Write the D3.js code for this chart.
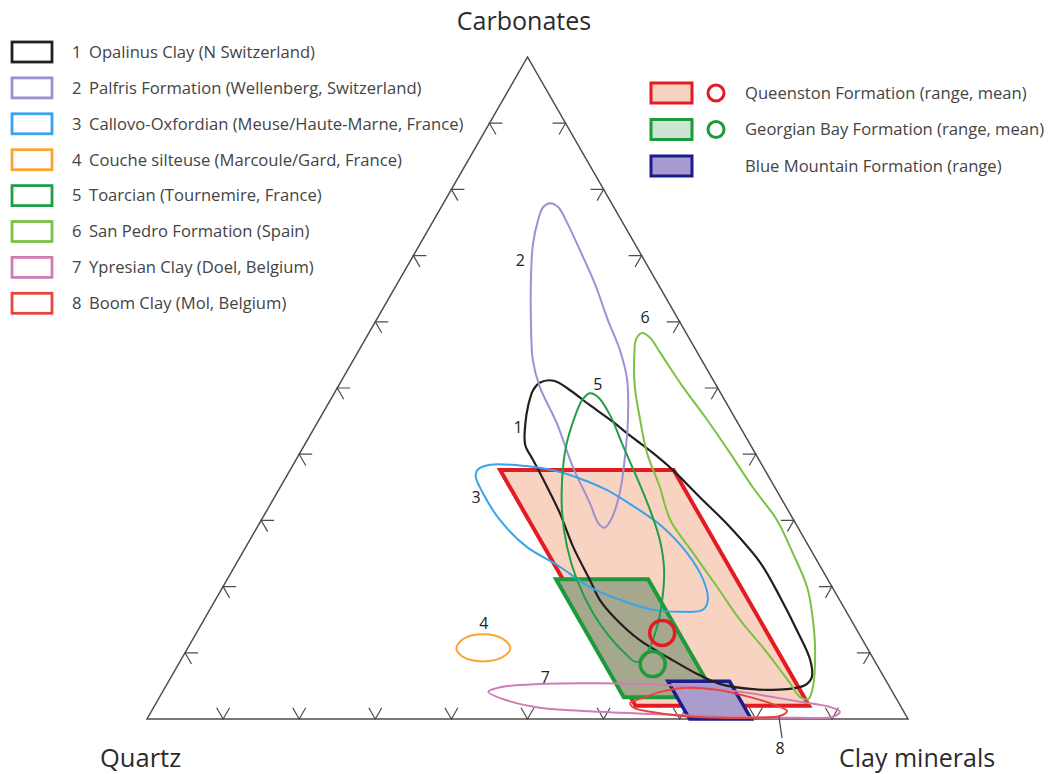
<!DOCTYPE html>
<html>
<head>
<meta charset="utf-8">
<script src="https://cdn.jsdelivr.net/npm/d3@7"></script>
<style>
  body { margin: 0; background: #fff; }
  svg text { font-family: "Open Sans", "Noto Sans", sans-serif; }
</style>
</head>
<body>
<svg id="chart"></svg>
<script>
// compositions as [carbonates %, clay minerals %]; quartz = 100 - carbonates - clay
const opalinus = [[50.8,26.2],[51.1,27.9],[49.7,30.7],[47.4,34.5],[45.0,38.6],[42.6,42.4],[40.3,46.2],[37.6,50.3],[33.5,55.9],[29.0,62.1],[23.6,68.8],[18.4,74.0],[13.4,78.7],[8.9,82.7],[6.3,84.2],[5.1,83.9],[4.5,81.8],[4.5,77.4],[5.3,72.6],[6.8,68.9],[9.1,64.2],[11.9,58.8],[15.3,53.8],[18.0,50.5],[21.0,47.7],[26.0,43.0],[31.1,38.7],[35.0,35.1],[39.1,31.2],[41.4,29.0],[44.4,27.5],[47.4,26.4],[49.7,25.9]];
const palfris = [[77.9,14.0],[77.3,15.4],[75.1,17.6],[70.8,21.5],[65.6,26.1],[60.3,30.4],[55.7,34.3],[51.2,37.5],[45.2,40.6],[40.6,42.6],[34.6,44.9],[30.4,45.9],[28.9,45.7],[29.6,44.5],[32.6,41.9],[38.1,36.9],[44.7,31.5],[50.2,26.5],[54.2,23.6],[60.3,20.3],[66.3,17.3],[71.6,14.9],[75.4,13.7],[77.3,13.4]];
const callovoOxfordian = [[37.6,24.6],[38.4,25.9],[38.2,30.8],[37.5,34.9],[36.3,38.8],[34.6,43.1],[32.0,48.1],[29.3,52.8],[25.1,58.4],[21.0,62.6],[18.0,64.7],[16.5,64.8],[16.2,61.9],[16.6,57.8],[18.0,53.2],[19.9,48.3],[23.3,42.2],[26.0,36.9],[30.1,31.3],[34.1,27.1],[36.6,24.9]];
const coucheSilteuse = [[10.7,42.4],[9.3,42.0],[8.7,39.8],[9.3,37.0],[10.7,35.3],[12.2,35.6],[12.8,37.8],[12.2,40.5]];
const toarcian = [[49.2,33.6],[48.6,35.0],[45.9,37.9],[41.4,41.8],[36.4,46.2],[31.6,50.3],[27.0,53.9],[22.5,56.7],[18.0,58.7],[13.4,60.2],[9.7,60.7],[8.6,60.0],[10.1,57.6],[12.4,54.6],[16.0,50.6],[21.0,46.0],[26.0,42.2],[31.1,39.0],[36.1,36.5],[41.1,34.5],[45.6,33.4],[48.2,33.1]];
const sanPedro = [[58.3,35.9],[57.6,37.3],[55.3,39.8],[50.2,45.3],[45.2,51.0],[40.2,56.5],[35.0,62.1],[30.1,67.7],[25.1,72.3],[19.9,76.8],[15.0,80.0],[10.0,82.8],[4.8,85.1],[3.0,85.4],[3.3,84.2],[5.4,81.8],[10.0,76.5],[15.0,70.4],[19.9,65.0],[25.1,59.2],[30.1,53.7],[35.0,49.9],[40.2,45.6],[45.2,42.2],[50.2,39.0],[55.3,36.4],[57.3,35.6]];
const ypresian = [[4.1,42.8],[4.8,44.0],[5.3,49.0],[5.4,56.8],[5.1,66.2],[4.1,75.9],[2.6,84.5],[1.8,88.9],[1.1,90.5],[0.3,89.9],[0.2,85.7],[0.3,77.8],[0.6,69.7],[1.1,59.0],[1.7,50.8],[2.9,45.6]];
const boomClay = [[2.4,62.3],[3.3,63.8],[4.1,65.4],[4.7,68.1],[4.4,72.7],[3.3,77.6],[2.1,81.5],[1.2,83.5],[0.5,83.0],[0.2,80.1],[0.2,75.2],[0.5,69.8],[1.1,65.6],[1.7,63.1]];

const formationNames = ["Opalinus Clay (N Switzerland)", "Palfris Formation (Wellenberg, Switzerland)", "Callovo-Oxfordian (Meuse/Haute-Marne, France)", "Couche silteuse (Marcoule/Gard, France)", "Toarcian (Tournemire, France)", "San Pedro Formation (Spain)", "Ypresian Clay (Doel, Belgium)", "Boom Clay (Mol, Belgium)"];
const outlines = [opalinus, palfris, callovoOxfordian, coucheSilteuse, toarcian, sanPedro, ypresian, boomClay];
// where the numbers sit, [carbonates, clay]
const labelAt = [[44.1,26.7],[69.3,14.4],[33.5,26.5],[14.5,37.0],[50.5,34.0],[60.7,35.1],[6.3,49.2],[-4.4,85.4]];
const leader8 = [[0.3,82.9],[-2.9,84.9]];

// Ontario ranges: [min, max] carbonates and quartz
const queenstonCarb = [2.0, 37.6], queenstonQuartz = [12.0, 34.8];
const georgianCarb = [3.3, 21.1], georgianQuartz = [23.6, 35.7];
const blueMtnCarb = [0.0, 5.7], blueMtnQuartz = [20.6, 28.7];
// means [carbonates, clay]
const queenstonMean = [13.0, 61.2];
const georgianMean = [8.3, 62.3];
const ontarioNames = ["Queenston Formation (range, mean)", "Georgian Bay Formation (range, mean)", "Blue Mountain Formation (range)"];

const tickValues = [10, 20, 30, 40, 50, 60, 70, 80, 90];

const lineColors = ["#231f20", "#9c91d2", "#38a4ea", "#f7a536", "#1f9f47", "#7cc143", "#cf7db3", "#e4463b"];
const axisColor = "#4d4d4d";

const width = 1049, height = 774;

const svg = d3.select("#chart").attr("width", width).attr("height", height);

// ternary scales: position along the base and height of carbonates
const xScale = d3.scaleLinear().domain([0, 100]).range([147, 908]);
const yScale = d3.scaleLinear().domain([0, 100]).range([719, 57]);
const project = ([c, k]) => [xScale(k + c / 2), yScale(c)];

const smooth = d3.line().curve(d3.curveCatmullRomClosed.alpha(0.5));

//triangle
svg.append("path")
  .attr("d", d3.line()([[100, 0], [0, 0], [0, 100]].map(project)) + "Z")
  .attr("fill", "none")
  .attr("stroke", axisColor)
  .attr("stroke-width", 1.5);

//ticks
const tickLen = 13;
const ticks = [];
tickValues.forEach(v => {
  ticks.push({ p: project([0, v]), arms: [[-0.5, -0.866], [0.5, -0.866]] });
  ticks.push({ p: project([v, 0]), arms: [[1, 0], [0.5, 0.866]] });
  ticks.push({ p: project([v, 100 - v]), arms: [[-1, 0], [-0.5, 0.866]] });
});
svg.append("g").selectAll("path")
  .data(ticks)
  .enter()
  .append("path")
  .attr("d", d => {
    const [x, y] = d.p;
    const a = d.arms;
    return `M${x + a[0][0] * tickLen},${y + a[0][1] * tickLen}L${x},${y}L${x + a[1][0] * tickLen},${y + a[1][1] * tickLen}`;
  })
  .attr("fill", "none")
  .attr("stroke", axisColor)
  .attr("stroke-width", 1.2);

//ranges
function rangeCorners(carb, quartz) {
  return [
    [carb[1], 100 - carb[1] - quartz[1]],
    [carb[1], 100 - carb[1] - quartz[0]],
    [carb[0], 100 - carb[0] - quartz[0]],
    [carb[0], 100 - carb[0] - quartz[1]]
  ].map(project);
}
const ranges = [
  { pts: rangeCorners(queenstonCarb, queenstonQuartz), fill: "#f9d3c2", stroke: "#e31b23", w: 4 },
  { pts: rangeCorners(georgianCarb, georgianQuartz), fill: "#a6a88e", stroke: "#1d9a3a", w: 4 },
  { pts: rangeCorners(blueMtnCarb, blueMtnQuartz), fill: "#aa9ccd", stroke: "#1c1d8c", w: 3.5 }
];
svg.append("g").selectAll("path")
  .data(ranges)
  .enter()
  .append("path")
  .attr("d", d => d3.line()(d.pts) + "Z")
  .attr("fill", d => d.fill)
  .attr("stroke", d => d.stroke)
  .attr("stroke-width", d => d.w)
  .attr("stroke-linejoin", "miter");

//outlines
svg.append("g").selectAll("path")
  .data(outlines)
  .enter()
  .append("path")
  .attr("d", d => smooth(d.map(project)))
  .attr("fill", "none")
  .attr("stroke", (d, i) => lineColors[i])
  .attr("stroke-width", (d, i) => i === 0 ? 2.2 : 2);

svg.append("path")
  .attr("d", d3.line()(leader8.map(project)))
  .attr("stroke", "#444")
  .attr("stroke-width", 1.2);

//means
svg.append("g").selectAll("circle")
  .data([{ m: queenstonMean, c: "#e31b23" }, { m: georgianMean, c: "#1d9a3a" }])
  .enter()
  .append("circle")
  .attr("cx", d => project(d.m)[0])
  .attr("cy", d => project(d.m)[1])
  .attr("r", 12.5)
  .attr("fill", "none")
  .attr("stroke", d => d.c)
  .attr("stroke-width", 3.5);

//number labels
svg.append("g").selectAll("text")
  .data(labelAt)
  .enter()
  .append("text")
  .attr("x", d => project(d)[0])
  .attr("y", d => project(d)[1])
  .attr("dy", "0.35em")
  .attr("text-anchor", "middle")
  .attr("fill", "#222")
  .style("font-size", "16px")
  .text((d, i) => i + 1);

//corner titles
svg.append("text").attr("x", 524).attr("y", 30).attr("text-anchor", "middle")
  .attr("fill", "#2b2b2b").style("font-size", "25px").text("Carbonates");
svg.append("text").attr("x", 100).attr("y", 767)
  .attr("fill", "#2b2b2b").style("font-size", "25.5px").text("Quartz");
svg.append("text").attr("x", 839).attr("y", 767)
  .attr("fill", "#2b2b2b").style("font-size", "25px").text("Clay minerals");

//left legend
const legFont = "16.6px";
const leg = svg.append("g").selectAll("g")
  .data(formationNames)
  .enter()
  .append("g")
  .attr("transform", (d, i) => `translate(0, ${52 + i * 35.9})`);
leg.append("rect")
  .attr("x", 12).attr("y", -10).attr("width", 40).attr("height", 20)
  .attr("fill", "none")
  .attr("stroke", (d, i) => lineColors[i])
  .attr("stroke-width", 2.8);
leg.append("text")
  .attr("x", 72).attr("dy", "0.35em")
  .attr("fill", "#444").style("font-size", legFont)
  .text((d, i) => i + 1);
leg.append("text")
  .attr("x", 89).attr("dy", "0.35em")
  .attr("fill", "#444").style("font-size", legFont)
  .text(d => d);

//right legend
const legendFills = ["#f9d3c2", "#cfe4d2", "#a99bd0"];
const legendStrokes = ["#e31b23", "#1d9a3a", "#1c1d8c"];
const leg2 = svg.append("g").selectAll("g")
  .data(ontarioNames)
  .enter()
  .append("g")
  .attr("transform", (d, i) => `translate(0, ${93 + i * 36.5})`);
leg2.append("rect")
  .attr("x", 651).attr("y", -10).attr("width", 41).attr("height", 20)
  .attr("fill", (d, i) => legendFills[i])
  .attr("stroke", (d, i) => legendStrokes[i])
  .attr("stroke-width", 3);
leg2.filter((d, i) => i < 2).append("circle")
  .attr("cx", 716).attr("r", 8)
  .attr("fill", "none")
  .attr("stroke", (d, i) => legendStrokes[i])
  .attr("stroke-width", 3);
leg2.append("text")
  .attr("x", 745).attr("dy", "0.35em")
  .attr("fill", "#444").style("font-size", legFont)
  .text(d => d);
</script>
</body>
</html>
